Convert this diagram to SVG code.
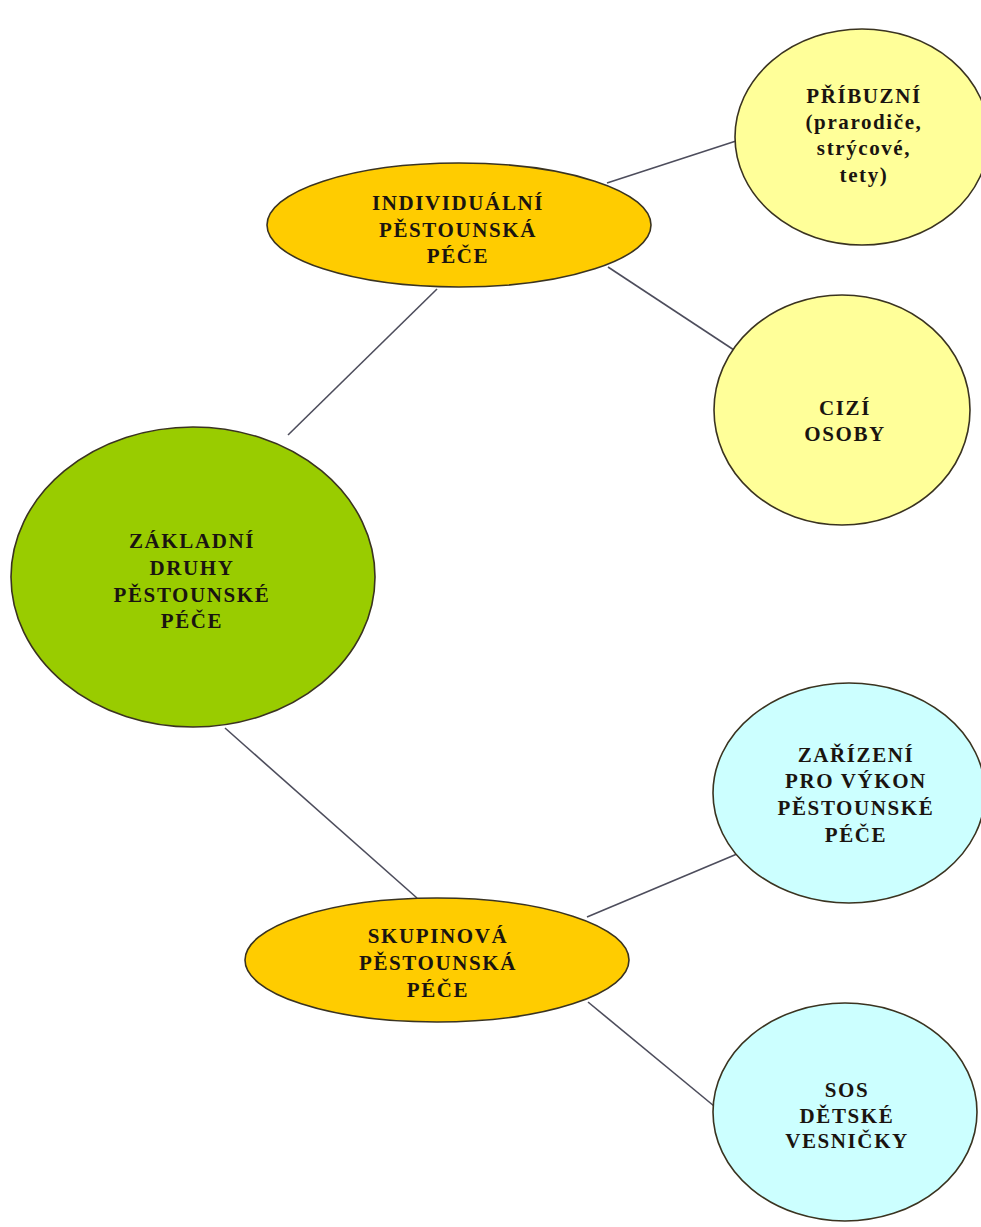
<svg xmlns="http://www.w3.org/2000/svg" width="981" height="1227" viewBox="0 0 981 1227">
<style>
.edge{stroke:#4d4d5c;stroke-width:1.6;fill:none}
.node{stroke:#3a3320;stroke-width:1.6}
.gold{fill:#ffcc00}
.green{fill:#99cc00}
.yellow{fill:#ffff99}
.cyan{fill:#ccffff}
.t{font-family:"Liberation Serif","Times New Roman",serif;font-weight:bold;font-size:21px;letter-spacing:1.6px;text-anchor:middle;fill:#1a1410}
</style>
<rect width="981" height="1227" fill="#ffffff"/>
<g id="connectors">
<line class="edge" x1="288" y1="435" x2="437" y2="289"/>
<line class="edge" x1="607" y1="183" x2="736" y2="141"/>
<line class="edge" x1="608" y1="267" x2="734" y2="350"/>
<line class="edge" x1="225" y1="728" x2="417" y2="898"/>
<line class="edge" x1="587" y1="917" x2="737" y2="854"/>
<line class="edge" x1="588" y1="1002" x2="714" y2="1106"/>
</g>
<g id="node-zakladni">
<ellipse class="node green" cx="193" cy="577" rx="182" ry="150"/>
<text class="t" x="192" y="548">ZÁKLADNÍ</text>
<text class="t" x="192" y="575">DRUHY</text>
<text class="t" x="192" y="602">PĚSTOUNSKÉ</text>
<text class="t" x="192" y="628">PÉČE</text>
</g>
<g id="node-individualni">
<ellipse class="node gold" cx="459" cy="225" rx="192" ry="62"/>
<text class="t" x="458" y="210">INDIVIDUÁLNÍ</text>
<text class="t" x="458" y="237">PĚSTOUNSKÁ</text>
<text class="t" x="458" y="263">PÉČE</text>
</g>
<g id="node-skupinova">
<ellipse class="node gold" cx="437" cy="960" rx="192" ry="62"/>
<text class="t" x="438" y="943">SKUPINOVÁ</text>
<text class="t" x="438" y="970">PĚSTOUNSKÁ</text>
<text class="t" x="438" y="997">PÉČE</text>
</g>
<g id="node-pribuzni">
<ellipse class="node yellow" cx="862" cy="137" rx="127" ry="108"/>
<text class="t" x="864" y="103">PŘÍBUZNÍ</text>
<text class="t" x="864" y="129">(prarodiče,</text>
<text class="t" x="864" y="155">strýcové,</text>
<text class="t" x="864" y="182">tety)</text>
</g>
<g id="node-cizi">
<ellipse class="node yellow" cx="842" cy="410" rx="128" ry="115"/>
<text class="t" x="845" y="415">CIZÍ</text>
<text class="t" x="845" y="441">OSOBY</text>
</g>
<g id="node-zarizeni">
<ellipse class="node cyan" cx="849" cy="793" rx="136" ry="110"/>
<text class="t" x="856" y="762">ZAŘÍZENÍ</text>
<text class="t" x="856" y="788">PRO VÝKON</text>
<text class="t" x="856" y="815">PĚSTOUNSKÉ</text>
<text class="t" x="856" y="842">PÉČE</text>
</g>
<g id="node-sos">
<ellipse class="node cyan" cx="845" cy="1112" rx="132" ry="109"/>
<text class="t" x="847" y="1097">SOS</text>
<text class="t" x="847" y="1123">DĚTSKÉ</text>
<text class="t" x="847" y="1148">VESNIČKY</text>
</g>
</svg>
